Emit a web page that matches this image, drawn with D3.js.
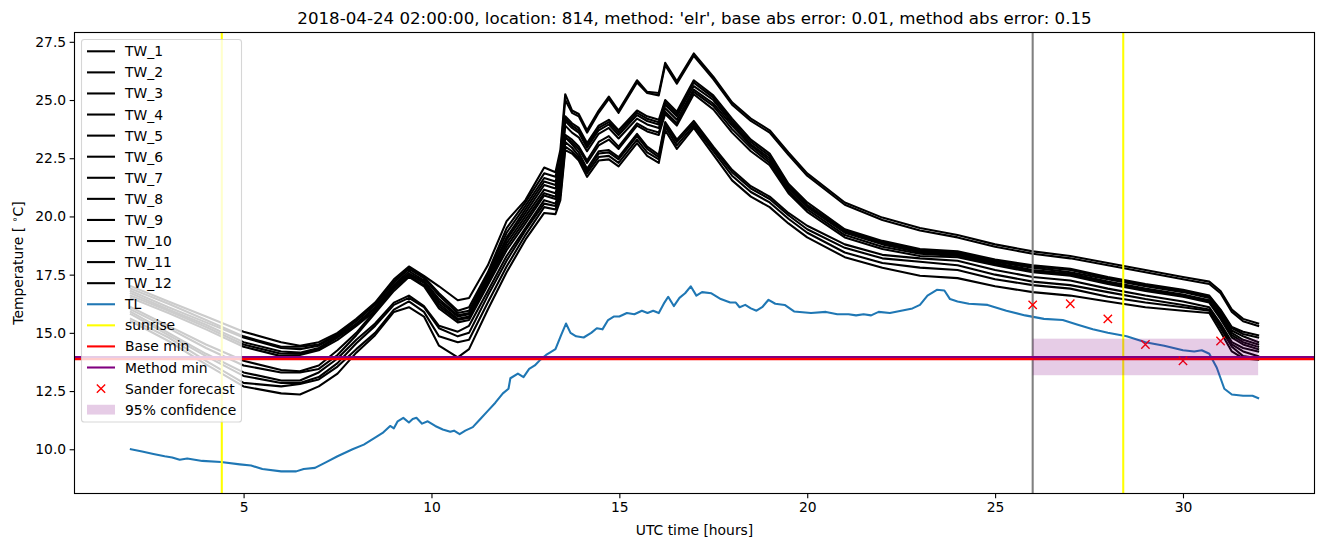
<!DOCTYPE html>
<html><head><meta charset="utf-8">
<script src="https://cdn.jsdelivr.net/npm/d3@7"></script>
<style>body{margin:0;background:#fff} svg{display:block} text{font-family:"DejaVu Sans",sans-serif;fill:#000}</style>
</head><body><svg id="c" width="1324" height="547"></svg>
<script>
// ---------- data ----------
const hours = [2,3,4,5,6,6.5,7,7.5,8,8.5,9,9.4,9.8,10.2,10.7,11,11.5,12,12.5,13,13.3,13.43,13.56,13.74,13.92,14.14,14.45,14.72,14.98,15.47,15.74,16.05,16.22,16.53,16.98,17.5,18,18.5,19,19.5,20,21,22,23,24,25,26,27,28,29,30,30.7,31,31.3,31.6,32];
const TW_1 = [17.0,16.35,15.7,15.05,14.6,14.45,14.6,15.0,15.6,16.3,17.3,17.85,17.45,17.0,16.4,16.5,17.9,19.8,20.7,22.1,21.9,22.85,25.25,24.55,24.4,23.7,24.55,25.15,24.55,25.85,25.35,25.3,26.6,25.8,27.0,26.0,24.9,24.2,23.7,22.75,21.85,20.6,19.95,19.5,19.2,18.8,18.5,18.3,18.0,17.7,17.4,17.2,16.8,16.0,15.6,15.4];
const TW_2 = [16.9,16.25,15.55,14.85,14.4,14.4,14.5,14.95,15.55,16.25,17.2,17.8,17.4,16.7,15.95,16.1,17.6,19.5,20.6,21.85,21.7,22.6,25.0,24.45,24.3,23.6,24.45,25.05,24.45,25.75,25.3,25.2,26.5,25.7,26.9,25.9,24.8,24.1,23.6,22.65,21.75,20.5,19.85,19.4,19.1,18.7,18.4,18.2,17.9,17.6,17.3,17.1,16.7,15.9,15.5,15.3];
const TW_3 = [16.8,16.1,15.45,14.8,14.35,14.3,14.45,14.9,15.5,16.2,17.15,17.75,17.35,16.6,15.85,15.95,17.5,19.3,20.45,21.65,21.5,22.3,24.3,24.0,23.8,23.15,23.9,24.15,23.7,24.55,24.3,24.15,25.0,24.5,25.85,25.2,24.2,23.3,22.7,21.4,20.6,19.45,18.95,18.6,18.5,18.15,17.9,17.75,17.4,17.1,16.85,16.6,16.0,15.25,15.05,14.9];
const TW_4 = [16.7,16.0,15.35,14.6,14.2,14.15,14.35,14.85,15.4,16.1,17.05,17.65,17.25,16.45,15.75,15.85,17.4,19.1,20.3,21.5,21.35,22.1,24.2,23.9,23.7,23.05,23.8,24.05,23.6,24.45,24.2,24.05,24.9,24.4,25.75,25.1,24.1,23.2,22.6,21.3,20.5,19.4,18.9,18.55,18.45,18.1,17.85,17.7,17.35,17.05,16.8,16.55,15.95,15.2,14.95,14.8];
const TW_5 = [16.6,15.95,15.25,14.5,14.1,14.1,14.3,14.8,15.35,16.05,17.0,17.55,17.2,16.35,15.7,15.8,17.35,19.0,20.15,21.35,21.2,21.9,24.1,23.8,23.6,22.95,23.7,23.95,23.5,24.35,24.1,23.95,24.8,24.3,25.6,25.0,24.0,23.1,22.5,21.25,20.45,19.35,18.85,18.5,18.4,18.05,17.8,17.6,17.3,17.0,16.75,16.5,15.85,15.1,14.85,14.6];
const TW_6 = [16.5,15.85,15.15,14.4,14.0,14.05,14.25,14.7,15.3,15.95,16.95,17.5,17.15,16.25,15.6,15.7,17.25,18.85,20.0,21.15,21.0,21.7,23.9,23.6,23.4,22.8,23.55,23.8,23.35,24.2,23.95,23.8,24.65,24.15,25.45,24.85,23.9,23.05,22.4,21.2,20.4,19.3,18.8,18.45,18.35,18.0,17.7,17.55,17.2,16.9,16.65,16.4,15.75,15.0,14.7,14.5];
const TW_7 = [16.1,15.3,14.5,13.8,13.4,13.35,13.6,14.25,15.0,15.95,16.9,17.45,17.05,16.15,15.55,15.65,17.15,18.7,19.85,21.0,20.85,21.5,23.5,23.3,23.0,22.4,23.2,23.45,23.0,24.0,23.75,23.6,24.5,24.0,25.35,24.75,23.75,22.95,22.3,21.1,20.3,19.2,18.7,18.4,18.3,17.95,17.65,17.5,17.15,16.85,16.6,16.35,15.7,14.9,14.6,14.4];
const TW_8 = [16.0,15.2,14.35,13.6,13.3,13.3,13.45,14.05,14.9,15.85,16.8,17.4,17.0,16.05,15.45,15.55,17.05,18.55,19.7,20.9,20.75,21.4,23.4,23.2,22.9,22.3,23.05,23.3,22.9,23.9,23.65,23.5,24.4,23.9,25.25,24.6,23.6,22.8,22.2,21.0,20.2,19.1,18.6,18.3,18.25,17.9,17.6,17.45,17.1,16.8,16.55,16.3,15.6,14.8,14.5,14.3];
const TW_9 = [15.9,15.0,14.1,13.3,12.95,12.95,13.3,13.9,14.7,15.4,16.3,16.6,16.15,15.3,15.05,15.3,16.8,18.3,19.5,20.7,20.55,21.2,23.4,23.1,22.75,22.05,22.8,22.85,22.55,23.55,23.0,22.65,24.05,23.3,24.1,23.0,22.0,21.3,20.85,20.15,19.6,18.8,18.35,18.2,18.1,17.7,17.4,17.25,16.9,16.6,16.35,16.1,15.4,14.6,14.35,14.2];
const TW_10 = [15.8,14.9,14.0,13.15,12.85,12.85,13.1,13.7,14.55,15.3,16.2,16.5,16.1,15.2,14.85,15.0,16.6,18.1,19.4,20.55,20.45,21.0,23.2,22.95,22.6,21.95,22.7,22.75,22.45,23.45,22.9,22.55,23.95,23.2,24.0,22.9,21.9,21.2,20.75,20.05,19.45,18.65,18.2,18.05,17.9,17.5,17.2,17.05,16.75,16.45,16.2,16.0,15.3,14.5,14.2,14.0];
const TW_11 = [15.6,14.8,13.8,12.85,12.7,12.8,13.0,13.55,14.3,15.0,16.0,16.35,15.9,14.85,14.6,14.7,16.3,17.85,19.2,20.4,20.3,20.9,23.0,22.8,22.5,21.85,22.55,22.6,22.3,23.3,22.75,22.45,23.85,23.05,23.9,22.8,21.75,21.05,20.6,19.9,19.3,18.45,18.0,17.8,17.7,17.3,17.05,16.9,16.55,16.3,16.1,15.95,15.2,14.4,14.0,13.9];
const TW_12 = [15.5,14.65,13.65,12.7,12.4,12.35,12.7,13.25,14.15,14.9,15.9,16.1,15.7,14.45,13.95,14.3,16.0,17.6,19.0,20.15,20.1,20.7,22.85,22.7,22.4,21.7,22.4,22.45,22.15,23.15,22.6,22.3,23.7,22.9,23.8,22.65,21.55,20.85,20.4,19.7,19.1,18.25,17.8,17.45,17.35,17.0,16.75,16.6,16.35,16.1,15.95,15.85,15.05,14.2,13.9,13.85];

const tlHours = [2.0,2.3,2.6,2.9,3.1,3.3,3.5,3.9,4.4,4.9,5.2,5.5,6.0,6.4,6.6,6.9,7.2,7.5,7.9,8.2,8.5,8.7,8.9,9.0,9.1,9.25,9.4,9.5,9.6,9.75,9.9,10.1,10.3,10.5,10.6,10.75,10.9,11.1,11.3,11.5,11.7,11.9,12.05,12.1,12.3,12.45,12.6,12.75,12.9,13.05,13.15,13.3,13.45,13.58,13.7,13.85,14.05,14.25,14.4,14.55,14.7,14.85,15.0,15.2,15.4,15.6,15.75,15.9,16.05,16.2,16.3,16.45,16.6,16.75,16.9,17.05,17.2,17.45,17.7,17.95,18.1,18.2,18.35,18.5,18.65,18.8,18.97,19.15,19.4,19.65,20.1,20.5,20.8,21.1,21.3,21.5,21.7,21.9,22.2,22.5,22.8,23.0,23.2,23.45,23.65,23.8,24.0,24.3,24.8,25.3,25.8,26.3,26.8,27.2,27.6,28.0,28.5,29.0,29.5,30.0,30.3,30.5,30.7,30.9,31.1,31.3,31.6,31.85,32.0];
const tlTemp = [10.0,9.9,9.8,9.7,9.65,9.55,9.6,9.5,9.45,9.35,9.3,9.15,9.05,9.05,9.15,9.2,9.45,9.7,10.0,10.2,10.5,10.7,11.0,10.9,11.2,11.35,11.15,11.3,11.35,11.1,11.2,11.0,10.85,10.75,10.8,10.65,10.8,10.95,11.3,11.65,12.0,12.4,12.6,13.05,13.25,13.1,13.45,13.6,13.85,14.05,14.15,14.3,14.9,15.4,15.0,14.85,14.8,15.0,15.2,15.15,15.55,15.7,15.7,15.85,15.8,15.95,15.85,15.95,15.85,16.3,16.55,16.15,16.5,16.7,17.0,16.6,16.75,16.7,16.45,16.3,16.3,16.1,16.2,16.05,15.95,16.1,16.42,16.25,16.2,15.92,15.85,15.9,15.8,15.8,15.75,15.8,15.75,15.9,15.85,15.95,16.05,16.2,16.6,16.85,16.82,16.45,16.35,16.25,16.2,15.95,15.75,15.6,15.55,15.35,15.15,15.0,14.85,14.6,14.45,14.25,14.2,14.25,14.1,13.5,12.6,12.35,12.3,12.3,12.2];

const sunriseHours = [4.42, 28.41];
const forecastHour = 26;
const baseMin = 13.87;
const methodMin = 13.96;
const sanderHours = [26, 27, 28, 29, 30, 31];
const sanderTemp = [16.2, 16.25, 15.6, 14.5, 13.8, 14.65];
const confHours = [26, 32];
const confLow = 13.18, confHigh = 14.75;
const xTicks = [5, 10, 15, 20, 25, 30];
const yTicks = [10, 12.5, 15, 17.5, 20, 22.5, 25, 27.5];
const twSeries = [TW_1,TW_2,TW_3,TW_4,TW_5,TW_6,TW_7,TW_8,TW_9,TW_10,TW_11,TW_12];
const twNames = ["TW_1","TW_2","TW_3","TW_4","TW_5","TW_6","TW_7","TW_8","TW_9","TW_10","TW_11","TW_12"];
const titleText = "2018-04-24 02:00:00, location: 814, method: 'elr', base abs error: 0.01, method abs error: 0.15";

// ---------- layout ----------
const L = 74.5, R = 1314.5, T = 32.5, B = 493.5;
const FS = 13.89, LW = 2.08;
const x = d3.scaleLinear().domain([0.5, 33.5]).range([L, R]);
const y = d3.scaleLinear().domain([8.1, 27.9]).range([B, T]);
const svg = d3.select("#c");

svg.append("defs").append("clipPath").attr("id","clip")
  .append("rect").attr("x",L).attr("y",T).attr("width",R-L).attr("height",B-T);
const plot = svg.append("g").attr("clip-path","url(#clip)");

const line = d3.line().x(d=>x(d[0])).y(d=>y(d[1]));
twSeries.forEach(s=>{
  plot.append("path").datum(hours.map((h,i)=>[h,s[i]]))
    .attr("d",line).attr("fill","none").attr("stroke","#000").attr("stroke-width",LW)
    .attr("stroke-linejoin","round").attr("stroke-linecap","square");
});
plot.append("path").datum(tlHours.map((h,i)=>[h,tlTemp[i]]))
  .attr("d",line).attr("fill","none").attr("stroke","#1f77b4").attr("stroke-width",LW)
  .attr("stroke-linejoin","round").attr("stroke-linecap","square");

sunriseHours.forEach(h=>{
  plot.append("line").attr("x1",x(h)).attr("x2",x(h)).attr("y1",T).attr("y2",B)
    .attr("stroke","#ffff00").attr("stroke-width",LW);
});
plot.append("line").attr("x1",x(forecastHour)).attr("x2",x(forecastHour)).attr("y1",T).attr("y2",B)
  .attr("stroke","#808080").attr("stroke-width",LW);
plot.append("line").attr("x1",L).attr("x2",R).attr("y1",y(baseMin)).attr("y2",y(baseMin))
  .attr("stroke","#ff0000").attr("stroke-width",LW);
plot.append("line").attr("x1",L).attr("x2",R).attr("y1",y(methodMin)).attr("y2",y(methodMin))
  .attr("stroke","#800080").attr("stroke-width",LW);

const ms = 4.17;
sanderHours.forEach((h,i)=>{
  const cx = x(h), cy = y(sanderTemp[i]);
  plot.append("path").attr("d",`M${cx-ms},${cy-ms}L${cx+ms},${cy+ms}M${cx-ms},${cy+ms}L${cx+ms},${cy-ms}`)
    .attr("stroke","#ff0000").attr("stroke-width",1.39).attr("fill","none");
});
plot.append("rect").attr("x",x(confHours[0])).attr("y",y(confHigh))
  .attr("width",x(confHours[1])-x(confHours[0])).attr("height",y(confLow)-y(confHigh))
  .attr("fill","#800080").attr("fill-opacity",0.2);

// ---------- axes ----------
const xAxis = d3.axisBottom(x).tickValues(xTicks).tickSize(4.86).tickPadding(3.5).tickFormat(d3.format("d"));
const gx = svg.append("g").attr("transform",`translate(0,${B})`).call(xAxis);
const yAxis = d3.axisLeft(y).tickValues(yTicks).tickSize(4.86).tickPadding(3.5).tickFormat(d3.format(".1f"));
const gy = svg.append("g").attr("transform",`translate(${L},0)`).call(yAxis);
[gx,gy].forEach(g=>{
  g.select(".domain").remove();
  g.selectAll(".tick line").attr("stroke","#000").attr("stroke-width",1.11);
  g.selectAll(".tick text").attr("font-size",FS).attr("font-family","DejaVu Sans").attr("fill","#000");
});
svg.append("rect").attr("x",L).attr("y",T).attr("width",R-L).attr("height",B-T)
  .attr("fill","none").attr("stroke","#000").attr("stroke-width",1.11);

svg.append("text").attr("x",(L+R)/2).attr("y",535).attr("text-anchor","middle")
  .attr("font-size",FS).text("UTC time [hours]");
const yl = svg.append("text").attr("transform",`translate(23,${(T+B)/2}) rotate(-90)`)
  .attr("text-anchor","middle").attr("font-size",FS);
yl.append("tspan").text("Temperature [ ");
yl.append("tspan").attr("font-size",FS*0.7).attr("dy",-5).text("∘");
yl.append("tspan").attr("dy",5).text("C]");
svg.append("text").attr("x",(L+R)/2).attr("y",24).attr("text-anchor","middle")
  .attr("font-size",16.67).text(titleText);

// ---------- legend ----------
const lg = svg.append("g");
lg.append("rect").attr("x",81.5).attr("y",39.5).attr("width",160).attr("height",382.5).attr("rx",2.8)
  .attr("fill","#fff").attr("fill-opacity",0.8).attr("stroke","#cccccc").attr("stroke-opacity",0.8).attr("stroke-width",1.11);
const entries = twNames.map(n=>({label:n,type:"line",color:"#000"})).concat([
  {label:"TL",type:"line",color:"#1f77b4"},
  {label:"sunrise",type:"line",color:"#ffff00"},
  {label:"Base min",type:"line",color:"#ff0000"},
  {label:"Method min",type:"line",color:"#800080"},
  {label:"Sander forecast",type:"marker",color:"#ff0000"},
  {label:"95% confidence",type:"patch",color:"#800080"}
]);
const hx0 = 87, hx1 = 115, row0 = 51.3, dyRow = 21.08;
entries.forEach((e,i)=>{
  const cy = row0 + i*dyRow;
  if(e.type==="line"){
    lg.append("line").attr("x1",hx0).attr("x2",hx1).attr("y1",cy).attr("y2",cy)
      .attr("stroke",e.color).attr("stroke-width",LW);
  } else if(e.type==="marker"){
    const cx=(hx0+hx1)/2;
    lg.append("path").attr("d",`M${cx-ms},${cy-ms}L${cx+ms},${cy+ms}M${cx-ms},${cy+ms}L${cx+ms},${cy-ms}`)
      .attr("stroke",e.color).attr("stroke-width",1.39);
  } else {
    lg.append("rect").attr("x",hx0).attr("y",cy-4.9).attr("width",hx1-hx0).attr("height",9.8)
      .attr("fill",e.color).attr("fill-opacity",0.2);
  }
  lg.append("text").attr("x",125).attr("y",cy+5).attr("font-size",FS).text(e.label);
});
</script></body></html>
